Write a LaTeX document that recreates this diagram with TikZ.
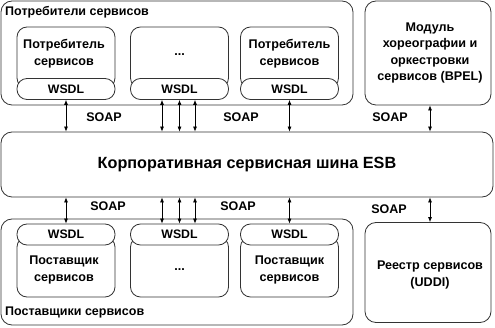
\documentclass[tikz,border=0pt]{standalone}
\usepackage{fontspec}
\setmainfont{Liberation Sans}
\usetikzlibrary{arrows.meta}
\begin{document}
\begin{tikzpicture}[x=1pt,y=-1pt,
  box/.style={draw=black!80, line width=0.8pt, rounded corners=11pt, fill=white},
  inner/.style={draw=black!80, line width=0.8pt, rounded corners=10pt, fill=white, minimum width=98pt},
  pill/.style={draw=black!80, line width=0.8pt, rounded corners=10pt, fill=white, minimum width=98pt, minimum height=21pt, inner sep=0pt, font=\bfseries\fontsize{12.3}{14}\selectfont},
  lbl/.style={font=\bfseries\fontsize{12.6}{17}\selectfont, align=center, inner sep=0pt},
  soap/.style={font=\bfseries\fontsize{12.5}{14}\selectfont, inner sep=0pt},
  ttl/.style={font=\bfseries\fontsize{12.5}{14}\selectfont, inner sep=0pt, anchor=west},
  link/.style={{Latex[length=5pt,width=4pt]}-{Latex[length=5pt,width=4pt]}, line width=0.7pt}
]
\useasboundingbox (0,0) rectangle (495,328);
% top outer
\node[box, minimum width=352pt, minimum height=104pt] (cons) at (177,53) {};
\node[ttl] (consl) at (5,12) {Потребители сервисов};
% consumer boxes
\node[inner, minimum height=61pt] (c1) at (66,57.5) {};
\node[inner, minimum height=61pt] (c2) at (179.5,57.5) {};
\node[inner, minimum height=61pt] (c3) at (289.5,57.5) {};
\node[pill] (c1w) at (66,89) {WSDL};
\node[pill] (c2w) at (179.5,89) {WSDL};
\node[pill] (c3w) at (289.5,89) {WSDL};
\node[lbl] (c1t) at (64,53.5) {Потребитель\\сервисов};
\node[lbl] (c2t) at (179.5,55) {...};
\node[lbl] (c3t) at (289.5,53.5) {Потребитель\\сервисов};
% BPEL
\node[box, minimum width=126pt, minimum height=104pt] (bpel) at (428,53) {};
\node[font=\bfseries\fontsize{12.6}{16.5}\selectfont, align=center, inner sep=0pt] (bpelt) at (430,53) {Модуль\\хореографии и\\оркестровки\\сервисов (BPEL)};
% ESB
\node[box, minimum width=492pt, minimum height=65pt, font=\bfseries\fontsize{16.2}{19}\selectfont] (esb) at (247,164.5) {Корпоративная сервисная шина ESB};
% bottom outer
\node[box, minimum width=352pt, minimum height=106pt] (prov) at (177,272) {};
\node[ttl] (provl) at (5,312) {Поставщики сервисов};
\node[inner, minimum height=60pt] (p1) at (66,267) {};
\node[inner, minimum height=60pt] (p2) at (179.5,267) {};
\node[inner, minimum height=60pt] (p3) at (289.5,267) {};
\node[pill] (p1w) at (66,234.5) {WSDL};
\node[pill] (p2w) at (179.5,234.5) {WSDL};
\node[pill] (p3w) at (289.5,234.5) {WSDL};
\node[lbl] (p1t) at (64,270) {Поставщик\\сервисов};
\node[lbl] (p2t) at (179.5,270) {...};
\node[lbl] (p3t) at (289.5,270) {Поставщик\\сервисов};
% UDDI
\node[box, minimum width=126pt, minimum height=100pt] (uddi) at (428,272.5) {};
\node[lbl] (uddit) at (430,275) {Реестр сервисов\\(UDDI)};
% arrows top
\draw[link] (c1w.south) -- (c1w.south |- esb.north);
\draw[link] ([xshift=-17.5pt]c2w.south) -- ([xshift=-17.5pt]c2w.south |- esb.north);
\draw[link] (c2w.south) -- (c2w.south |- esb.north);
\draw[link] ([xshift=15.5pt]c2w.south) -- ([xshift=15.5pt]c2w.south |- esb.north);
\draw[link] (c3w.south) -- (c3w.south |- esb.north);
\draw[link] ([xshift=2pt]bpel.south) -- ([xshift=2pt]bpel.south |- esb.north);
% arrows bottom
\draw[link] (p1w.north) -- (p1w.north |- esb.south);
\draw[link] ([xshift=-17.5pt]p2w.north) -- ([xshift=-17.5pt]p2w.north |- esb.south);
\draw[link] (p2w.north) -- (p2w.north |- esb.south);
\draw[link] ([xshift=15.5pt]p2w.north) -- ([xshift=15.5pt]p2w.north |- esb.south);
\draw[link] (p3w.north) -- (p3w.north |- esb.south);
\draw[link] ([xshift=2pt]uddi.north) -- ([xshift=2pt]uddi.north |- esb.south);
% SOAP labels
\node[soap] (s1) at (104,117) {SOAP};
\node[soap] (s2) at (241,117) {SOAP};
\node[soap] (s3) at (390,117) {SOAP};
\node[soap] (s4) at (108,206) {SOAP};
\node[soap] (s5) at (238,206) {SOAP};
\node[soap] (s6) at (389,209) {SOAP};
\end{tikzpicture}
\end{document}
